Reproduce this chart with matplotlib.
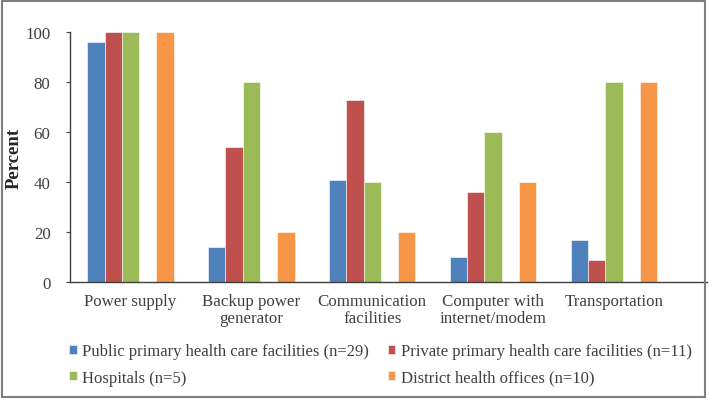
import matplotlib.pyplot as plt
import numpy as np
from matplotlib.patches import Rectangle

categories = ["Power supply", "Backup power\ngenerator", "Communication\nfacilities",
              "Computer with\ninternet/modem", "Transportation"]
public_phc = [96, 14, 41, 10, 17]
private_phc = [100, 54, 73, 36, 9]
hospitals = [100, 80, 40, 60, 80]
district = [100, 20, 20, 40, 80]

series_names = ["Public primary health care facilities (n=29)",
                "Private primary health care facilities (n=11)",
                "Hospitals (n=5)",
                "District health offices (n=10)"]
colors = ["#4F81BD", "#C0504D", "#9BBB59", "#F79646"]

plt.rcParams['font.family'] = ['Liberation Serif', 'DejaVu Serif']
txt = "#404040"
fs = 12.2

fig = plt.figure(figsize=(7.09, 4.02), dpi=100)
ax = fig.add_axes([70 / 709, 119 / 402, 637 / 709, 250 / 402])

x = np.arange(len(categories))
w = 0.143
# five slots per group, fourth one left empty (as in original)
offsets = [-2 * w, -1 * w, 0, 2 * w]
bars = []
for vals, off, c, name in zip([public_phc, private_phc, hospitals, district], offsets, colors, series_names):
    b = ax.bar(x + off, vals, width=w, color=c, label=name, clip_on=False,
               edgecolor="white", linewidth=0.4)
    bars.append(b)

ax.set_xlim(-0.5, 4.769)
ax.set_ylim(0, 100)
ax.set_yticks([0, 20, 40, 60, 80, 100])
ax.set_xticks(x)
ax.set_xticklabels(categories, fontsize=fs, color=txt, linespacing=1.1)
ax.tick_params(axis='x', length=0, pad=8)
ax.tick_params(axis='y', direction='out', length=3, width=0.8, pad=11,
               labelsize=fs, labelcolor=txt, color="#404040")
for s in ["top", "right"]:
    ax.spines[s].set_visible(False)
for s in ["left", "bottom"]:
    ax.spines[s].set_color("#404040")
    ax.spines[s].set_linewidth(1.0)

ax.set_ylabel("Percent", fontsize=13.5, fontweight="bold", color="#262626", labelpad=2)

order = [0, 2, 1, 3]
fig.legend([bars[i] for i in order], [series_names[i] for i in order],
           ncol=2, loc="upper left", bbox_to_anchor=(69 / 709, 1 - 344 / 402),
           frameon=False, fontsize=12, labelcolor=txt,
           handlelength=0.45, handleheight=0.45, handletextpad=0.35,
           columnspacing=1.1, labelspacing=0.65, borderpad=0, borderaxespad=0)

fig.patches.append(Rectangle((2 / 709, 4 / 402), 703 / 709, 396 / 402,
                             transform=fig.transFigure, fill=False,
                             edgecolor="#7f7f7f", linewidth=1.5))

fig.savefig("out.png", dpi=100)
